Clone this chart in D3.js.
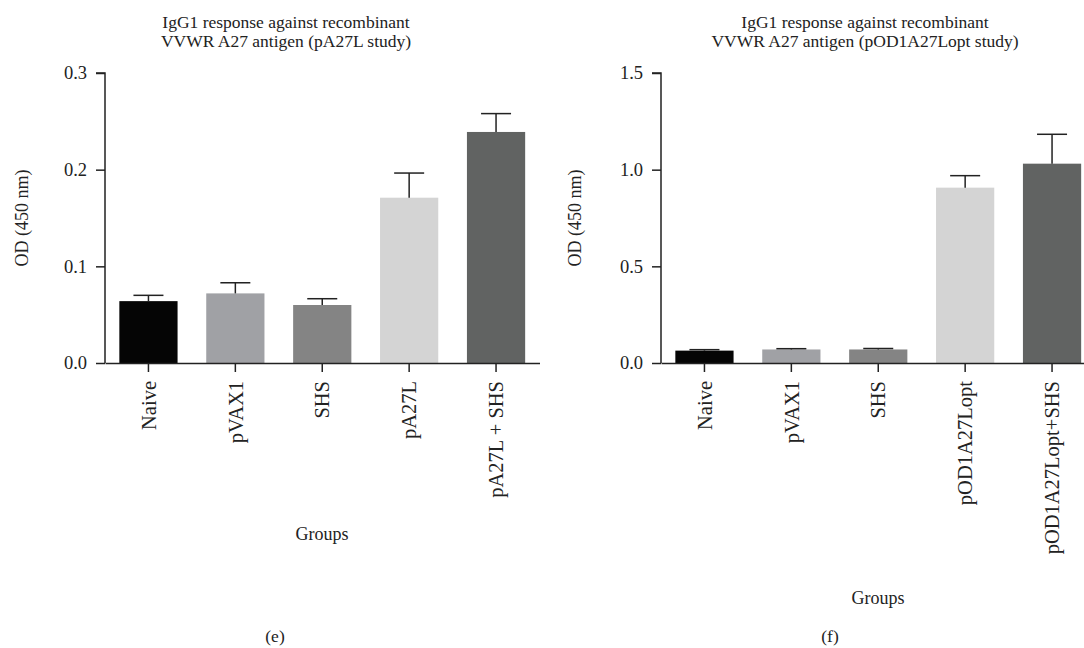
<!DOCTYPE html>
<html>
<head>
<meta charset="utf-8">
<script src="https://cdn.jsdelivr.net/npm/d3@7"></script>
<style>
  body { margin: 0; background: #fff; }
  svg text { font-family: "Liberation Serif", "DejaVu Serif", serif; fill: #222; }
</style>
</head>
<body>
<svg id="chart" width="1084" height="648"></svg>
<script>
const svg = d3.select("#chart");

// panel (e)
const groupsE = ["Naive", "pVAX1", "SHS", "pA27L", "pA27L + SHS"];
const meanE = [0.064, 0.072, 0.060, 0.171, 0.239];
const errE = [0.006, 0.011, 0.0065, 0.0255, 0.019];
const ticksE = [0.0, 0.1, 0.2, 0.3];

// panel (f)
const groupsF = ["Naive", "pVAX1", "SHS", "pOD1A27Lopt", "pOD1A27Lopt+SHS"];
const meanF = [0.064, 0.070, 0.070, 0.907, 1.031];
const errF = [0.005, 0.004, 0.005, 0.062, 0.152];
const ticksF = [0.0, 0.5, 1.0, 1.5];

const barColors = ["#050505", "#a0a1a5", "#848484", "#d4d4d4", "#616362"];

function drawPanel(opt) {
  const g = svg.append("g");

  const x = d3.scaleBand()
    .domain(opt.groups)
    .range([opt.left, opt.left + 5 * 86.9])
    .paddingInner(0.33)
    .paddingOuter(0.165);

  const y = d3.scaleLinear()
    .domain([0, opt.ticks[opt.ticks.length - 1]])
    .range([363, 73]);

  const data = opt.groups.map((name, i) => ({ name, v: opt.mean[i], e: opt.err[i], c: barColors[i] }));

  g.selectAll("rect.bar")
    .data(data)
    .enter()
    .append("rect")
    .attr("class", "bar")
    .attr("x", d => x(d.name))
    .attr("width", x.bandwidth())
    .attr("y", d => y(d.v))
    .attr("height", d => y(0) - y(d.v))
    .attr("fill", d => d.c);

  // error bars (upper only)
  const eb = g.selectAll("g.err").data(data).enter().append("g").attr("class", "err");
  eb.append("line")
    .attr("x1", d => x(d.name) + x.bandwidth() / 2)
    .attr("x2", d => x(d.name) + x.bandwidth() / 2)
    .attr("y1", d => y(d.v))
    .attr("y2", d => y(d.v + d.e))
    .attr("stroke", "#222")
    .attr("stroke-width", 1.5);
  eb.append("line")
    .attr("x1", d => x(d.name) + x.bandwidth() / 2 - 15)
    .attr("x2", d => x(d.name) + x.bandwidth() / 2 + 15)
    .attr("y1", d => y(d.v + d.e))
    .attr("y2", d => y(d.v + d.e))
    .attr("stroke", "#222")
    .attr("stroke-width", 1.5);

  // y axis
  const yAxis = g.append("g")
    .attr("transform", `translate(${opt.left},0)`)
    .call(d3.axisLeft(y).tickValues(opt.ticks).tickFormat(d3.format(".1f")).tickSize(9).tickPadding(9));
  yAxis.select(".domain").attr("stroke", "#222").attr("stroke-width", 1.5).attr("d", `M-9,${y(opt.ticks[opt.ticks.length - 1])}H0V${y(0)}`);
  yAxis.selectAll(".tick line").attr("stroke", "#222").attr("stroke-width", 1.5);
  yAxis.selectAll("text").style("font-size", "18.5px").attr("fill", "#222");

  // x axis
  const xAxis = g.append("g")
    .attr("transform", `translate(0,${y(0)})`)
    .call(d3.axisBottom(x).tickSize(9).tickSizeOuter(0));
  xAxis.select(".domain").attr("stroke", "#222").attr("stroke-width", 1.5);
  xAxis.selectAll(".tick line").attr("stroke", "#222").attr("stroke-width", 1.5);
  xAxis.selectAll("text")
    .style("font-size", "20.5px")
    .attr("fill", "#222")
    .attr("text-anchor", "end")
    .attr("dy", "0.35em")
    .attr("transform", "translate(0,18) rotate(-90)")
    .attr("x", 0)
    .attr("y", 0);

  // y axis label
  g.append("text")
    .attr("transform", `translate(${opt.yLabelX},${(y(0) + y(opt.ticks[opt.ticks.length - 1])) / 2}) rotate(-90)`)
    .attr("text-anchor", "middle")
    .style("font-size", "18px")
    .text("OD (450 nm)");

  // title
  g.append("text")
    .attr("x", opt.titleX).attr("y", 28)
    .attr("text-anchor", "middle")
    .style("font-size", "17.5px")
    .text(opt.title[0]);
  g.append("text")
    .attr("x", opt.titleX).attr("y", 47)
    .attr("text-anchor", "middle")
    .style("font-size", "17.5px")
    .text(opt.title[1]);

  // x axis label
  g.append("text")
    .attr("x", opt.groupsX).attr("y", opt.groupsY)
    .attr("text-anchor", "middle")
    .style("font-size", "18px")
    .text("Groups");

  // panel letter
  g.append("text")
    .attr("x", opt.letterX).attr("y", 642)
    .attr("text-anchor", "middle")
    .style("font-size", "17.5px")
    .text(opt.letter);
}

drawPanel({
  groups: groupsE, mean: meanE, err: errE, ticks: ticksE,
  left: 105, yLabelX: 28, titleX: 286,
  title: ["IgG1 response against recombinant", "VVWR A27 antigen (pA27L study)"],
  groupsX: 322, groupsY: 540, letterX: 275, letter: "(e)"
});

drawPanel({
  groups: groupsF, mean: meanF, err: errF, ticks: ticksF,
  left: 661, yLabelX: 581, titleX: 865,
  title: ["IgG1 response against recombinant", "VVWR A27 antigen (pOD1A27Lopt study)"],
  groupsX: 878, groupsY: 604, letterX: 830, letter: "(f)"
});
</script>
</body>
</html>
